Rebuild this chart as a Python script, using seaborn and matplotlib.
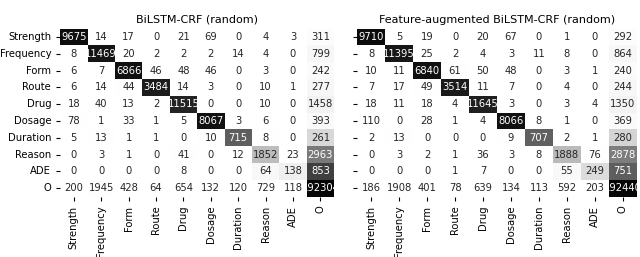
#Confusion matrices, BiLSTM-CRF vs feature-augmented
import seaborn as sns
import numpy as np
import matplotlib.pyplot as plt

labels = ['Strength', 'Frequency', 'Form', 'Route', 'Drug',
          'Dosage', 'Duration', 'Reason', 'ADE', 'O']

# rows = true label, cols = predicted label
base_counts = [
    [9675, 14, 17, 0, 21, 69, 0, 4, 3, 311],
    [8, 11469, 20, 2, 2, 2, 14, 4, 0, 799],
    [6, 7, 6866, 46, 48, 46, 0, 3, 0, 242],
    [6, 14, 44, 3484, 14, 3, 0, 10, 1, 277],
    [18, 40, 13, 2, 11515, 0, 0, 10, 0, 1458],
    [78, 1, 33, 1, 5, 8067, 3, 6, 0, 393],
    [5, 13, 1, 1, 0, 10, 715, 8, 0, 261],
    [0, 3, 1, 0, 41, 0, 12, 1852, 23, 2963],
    [0, 0, 0, 0, 8, 0, 0, 64, 138, 853],
    [200, 1945, 428, 64, 654, 132, 120, 729, 118, 192304],
]

feat_counts = [
    [9710, 5, 19, 0, 20, 67, 0, 1, 0, 292],
    [8, 11395, 25, 2, 4, 3, 11, 8, 0, 864],
    [10, 11, 6840, 61, 50, 48, 0, 3, 1, 240],
    [7, 17, 49, 3514, 11, 7, 0, 4, 0, 244],
    [18, 11, 18, 4, 11645, 3, 0, 3, 4, 1350],
    [110, 0, 28, 1, 4, 8066, 8, 1, 0, 369],
    [2, 13, 0, 0, 0, 9, 707, 2, 1, 280],
    [0, 3, 2, 1, 36, 3, 8, 1888, 76, 2878],
    [0, 0, 0, 1, 7, 0, 0, 55, 249, 751],
    [186, 1908, 401, 78, 639, 134, 113, 592, 203, 192440],
]

titles = ['BiLSTM-CRF (random)', 'Feature-augmented BiLSTM-CRF (random)']

plt.rcParams['font.family'] = ['DejaVu Sans']
plt.rcParams['font.size'] = 7

fig = plt.figure(figsize=(6.4, 2.57), dpi=100)
ax1 = fig.add_axes([0.094, 0.235, 0.428, 0.654])
ax2 = fig.add_axes([0.558, 0.235, 0.437, 0.654])

for ax, counts, title in zip([ax1, ax2], [base_counts, feat_counts], titles):
    cm = np.array(counts)
    norm = cm / cm.sum(axis=1, keepdims=True)  # colour by row share
    sns.heatmap(norm, annot=cm, fmt='d', cmap='Greys', vmin=0, vmax=1,
                cbar=False, xticklabels=labels, yticklabels=labels,
                annot_kws={'fontsize': 7.2}, ax=ax)
    ax.set_title(title, fontsize=8, pad=4)
    ax.tick_params(labelsize=7.2, length=3, width=0.8)
    plt.setp(ax.get_xticklabels(), rotation=90)
    plt.setp(ax.get_yticklabels(), rotation=0)

ax2.set_yticklabels([])

fig.savefig('out.png', dpi=100)
